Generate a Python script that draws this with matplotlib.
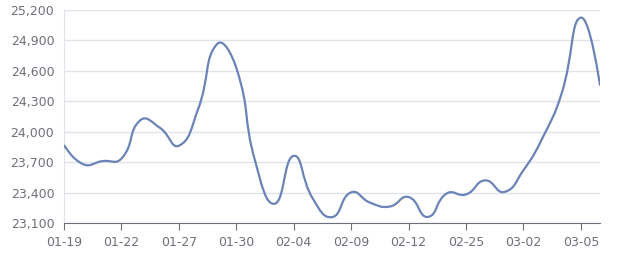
import matplotlib
matplotlib.use("Agg")
import matplotlib.pyplot as plt
from matplotlib.path import Path
from matplotlib.patches import PathPatch
import numpy as np

# daily prices, one label every 3 points
prices = [23870, 23680, 23710, 23735, 24115, 24040, 23862, 24220, 24865, 24630,
          23700, 23290, 23762, 23340, 23158, 23402, 23300, 23262, 23356, 23160,
          23392, 23382, 23520, 23406, 23620, 23940, 24380, 25125, 24455]
tick_labels = ["01-19", "01-22", "01-27", "01-30", "02-04",
               "02-09", "02-12", "02-25", "03-02", "03-05"]
tick_pos = [0, 3, 6, 9, 12, 15, 18, 21, 24, 27]
y_ticks = list(range(23100, 25201, 300))

fig = plt.figure(figsize=(6.4, 2.7), dpi=100)
ax = fig.add_axes([0.1, 0.174, 0.8375, 0.789])
ax.set_xlim(0, len(prices) - 1)
ax.set_ylim(23100, 25200)


def smooth_path(xs, ys, sx, sy, smooth=0.5):
    # bezier smoothing like echarts, distances measured in pixel units
    px = np.asarray(xs, float) * sx
    py = np.asarray(ys, float) * sy
    n = len(px)
    verts = [(xs[0], ys[0])]
    codes = [Path.MOVETO]
    cps = []
    for i in range(n):
        if i == 0 or i == n - 1:
            cps.append(((px[i], py[i]), (px[i], py[i])))
            continue
        vx = (px[i + 1] - px[i - 1]) * smooth
        vy = (py[i + 1] - py[i - 1]) * smooth
        d0 = np.hypot(px[i] - px[i - 1], py[i] - py[i - 1])
        d1 = np.hypot(px[i + 1] - px[i], py[i + 1] - py[i])
        r0 = d0 / (d0 + d1)
        r1 = d1 / (d0 + d1)
        cps.append(((px[i] - vx * r0, py[i] - vy * r0),
                    (px[i] + vx * r1, py[i] + vy * r1)))
    for i in range(n - 1):
        a = cps[i][1]
        b = cps[i + 1][0]
        verts += [(a[0] / sx, a[1] / sy), (b[0] / sx, b[1] / sy), (xs[i + 1], ys[i + 1])]
        codes += [Path.CURVE4] * 3
    return Path(verts, codes)


xs = list(range(len(prices)))
path = smooth_path(xs, prices, 19.14, 1 / 9.86)
ax.add_patch(PathPatch(path, facecolor="none", edgecolor="#6a84b7", lw=1.6, zorder=3))

ax.set_yticks(y_ticks)
ax.set_yticklabels([f"{v:,}" for v in y_ticks])
ax.set_xticks(tick_pos)
ax.set_xticklabels(tick_labels)
ax.grid(axis="y", color="#e0e3ea", lw=1)
ax.set_axisbelow(True)

for s in ["top", "right"]:
    ax.spines[s].set_visible(False)
ax.spines["left"].set_color("#e0e3ea")
ax.spines["bottom"].set_color("#6e7079")
ax.tick_params(axis="y", length=0, pad=7, labelsize=9, labelcolor="#6e7079")
ax.tick_params(axis="x", length=5, color="#6e7079", pad=4, labelsize=9, labelcolor="#6e7079")

fig.savefig("out.png", dpi=100)
